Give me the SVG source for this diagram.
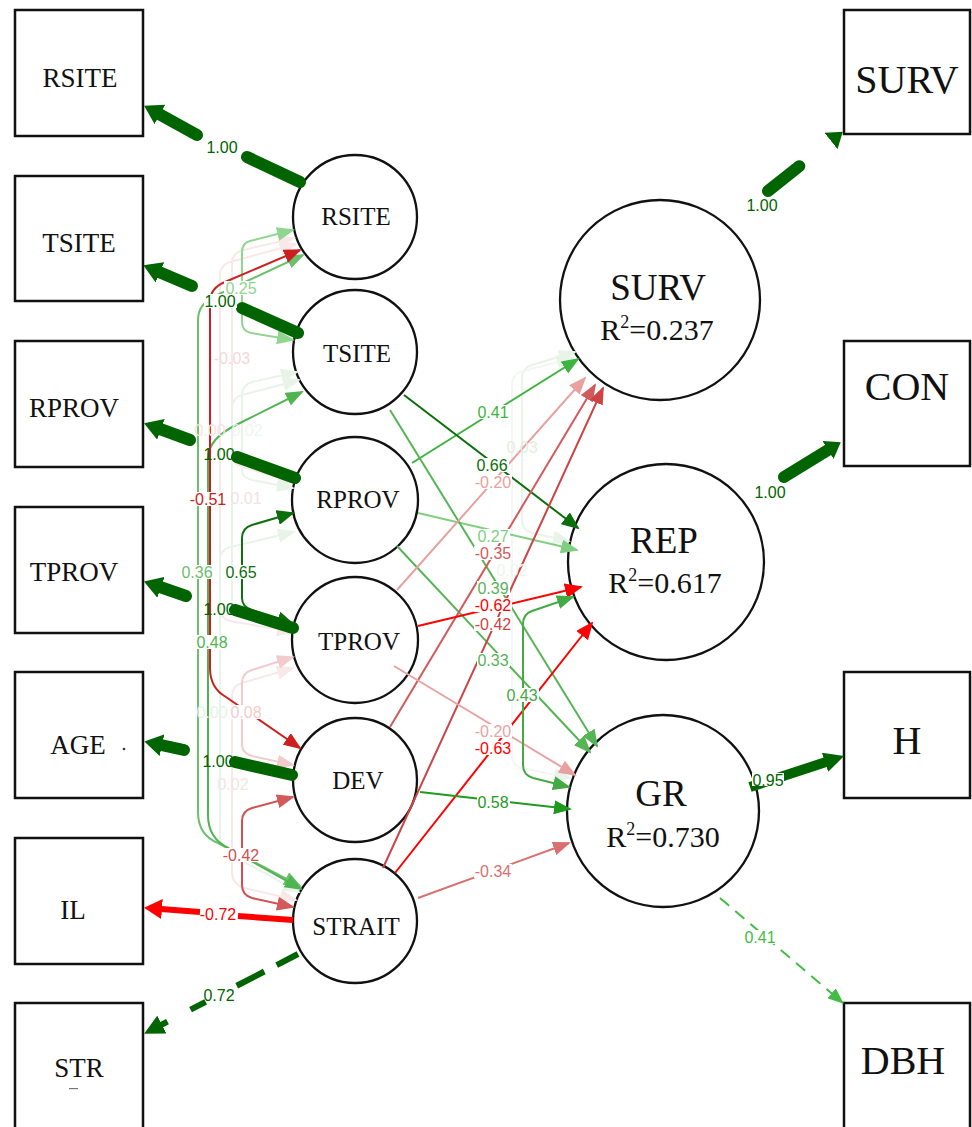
<svg xmlns="http://www.w3.org/2000/svg" width="972" height="1127" viewBox="0 0 972 1127">
<style>
.box{fill:#fff;stroke:#111;stroke-width:2.5}
.cir{fill:none;stroke:#111;stroke-width:2.3}
.nt{font-family:"Liberation Serif","Times New Roman",serif;fill:#111;text-anchor:middle}
.bt{font-size:27px}
.rt{font-size:40px}
.ct{font-size:25px}
.el{font-family:"Liberation Sans",Arial,sans-serif;font-size:16px;text-anchor:middle}
.bg{fill:#fff}
.ld{fill:none;stroke:#006400;stroke-width:12;stroke-linecap:round}
.e{fill:none;stroke-width:2}
</style>
<defs>
<marker id="Adg" viewBox="0 0 18 22" refX="1" refY="11" markerWidth="18" markerHeight="22" markerUnits="userSpaceOnUse" orient="auto"><path d="M0,0 L18,11 L0,22 z" fill="#006400"/></marker>
<marker id="Adg2" viewBox="0 0 15 21" refX="0" refY="10.5" markerWidth="15" markerHeight="21" markerUnits="userSpaceOnUse" orient="auto"><path d="M0,0 L15,10.5 L0,21 z" fill="#006400"/></marker>
<marker id="Adg3" viewBox="0 0 20 20" refX="1" refY="10" markerWidth="20" markerHeight="20" markerUnits="userSpaceOnUse" orient="auto"><path d="M0,0 L20,10 L0,20 z" fill="#006400"/></marker>
<marker id="Ar" viewBox="0 0 18 20" refX="1" refY="10" markerWidth="18" markerHeight="20" markerUnits="userSpaceOnUse" orient="auto"><path d="M0,0 L18,10 L0,20 z" fill="#ff0000"/></marker>
<marker id="mdg" viewBox="0 0 18 15" refX="16" refY="7.5" markerWidth="18" markerHeight="15" markerUnits="userSpaceOnUse" orient="auto-start-reverse"><path d="M0,0 L18,7.5 L0,15 z" fill="#0a6e0a"/></marker>
<marker id="mg" viewBox="0 0 18 14" refX="16" refY="7" markerWidth="18" markerHeight="14" markerUnits="userSpaceOnUse" orient="auto-start-reverse"><path d="M0,0 L18,7 L0,14 z" fill="#3db43d"/></marker>
<marker id="m58" viewBox="0 0 18 14" refX="16" refY="7" markerWidth="18" markerHeight="14" markerUnits="userSpaceOnUse" orient="auto-start-reverse"><path d="M0,0 L18,7 L0,14 z" fill="#1e9a1e"/></marker>
<marker id="m39" viewBox="0 0 18 14" refX="16" refY="7" markerWidth="18" markerHeight="14" markerUnits="userSpaceOnUse" orient="auto-start-reverse"><path d="M0,0 L18,7 L0,14 z" fill="#55b555"/></marker>
<marker id="m43" viewBox="0 0 18 14" refX="16" refY="7" markerWidth="18" markerHeight="14" markerUnits="userSpaceOnUse" orient="auto-start-reverse"><path d="M0,0 L18,7 L0,14 z" fill="#44aa44"/></marker>
<marker id="m48" viewBox="0 0 18 14" refX="16" refY="7" markerWidth="18" markerHeight="14" markerUnits="userSpaceOnUse" orient="auto-start-reverse"><path d="M0,0 L18,7 L0,14 z" fill="#50b450"/></marker>
<marker id="m36" viewBox="0 0 18 14" refX="16" refY="7" markerWidth="18" markerHeight="14" markerUnits="userSpaceOnUse" orient="auto-start-reverse"><path d="M0,0 L18,7 L0,14 z" fill="#6cc06c"/></marker>
<marker id="mlg" viewBox="0 0 18 14" refX="16" refY="7" markerWidth="18" markerHeight="14" markerUnits="userSpaceOnUse" orient="auto-start-reverse"><path d="M0,0 L18,7 L0,14 z" fill="#80cf80"/></marker>
<marker id="mlg2" viewBox="0 0 18 14" refX="16" refY="7" markerWidth="18" markerHeight="14" markerUnits="userSpaceOnUse" orient="auto-start-reverse"><path d="M0,0 L18,7 L0,14 z" fill="#90d590"/></marker>
<marker id="mdbh" viewBox="0 0 16 13" refX="15" refY="6.5" markerWidth="16" markerHeight="13" markerUnits="userSpaceOnUse" orient="auto"><path d="M0,0 L16,6.5 L0,13 z" fill="#44bb44"/></marker>
<marker id="mr" viewBox="0 0 18 15" refX="16" refY="7.5" markerWidth="18" markerHeight="15" markerUnits="userSpaceOnUse" orient="auto-start-reverse"><path d="M0,0 L18,7.5 L0,15 z" fill="#ff0000"/></marker>
<marker id="mr51" viewBox="0 0 18 14" refX="16" refY="7" markerWidth="18" markerHeight="14" markerUnits="userSpaceOnUse" orient="auto-start-reverse"><path d="M0,0 L18,7 L0,14 z" fill="#cc2020"/></marker>
<marker id="mr35" viewBox="0 0 18 14" refX="16" refY="7" markerWidth="18" markerHeight="14" markerUnits="userSpaceOnUse" orient="auto-start-reverse"><path d="M0,0 L18,7 L0,14 z" fill="#d25a5a"/></marker>
<marker id="mr42" viewBox="0 0 18 14" refX="16" refY="7" markerWidth="18" markerHeight="14" markerUnits="userSpaceOnUse" orient="auto-start-reverse"><path d="M0,0 L18,7 L0,14 z" fill="#cc4444"/></marker>
<marker id="mr34" viewBox="0 0 18 14" refX="16" refY="7" markerWidth="18" markerHeight="14" markerUnits="userSpaceOnUse" orient="auto-start-reverse"><path d="M0,0 L18,7 L0,14 z" fill="#d87070"/></marker>
<marker id="mpk" viewBox="0 0 18 14" refX="16" refY="7" markerWidth="18" markerHeight="14" markerUnits="userSpaceOnUse" orient="auto-start-reverse"><path d="M0,0 L18,7 L0,14 z" fill="#e8a0a0"/></marker>
<marker id="m08" viewBox="0 0 18 14" refX="16" refY="7" markerWidth="18" markerHeight="14" markerUnits="userSpaceOnUse" orient="auto-start-reverse"><path d="M0,0 L18,7 L0,14 z" fill="#f2cccc"/></marker>
<marker id="mfp" viewBox="0 0 18 14" refX="16" refY="7" markerWidth="18" markerHeight="14" markerUnits="userSpaceOnUse" orient="auto-start-reverse"><path d="M0,0 L18,7 L0,14 z" fill="#f8e8e8"/></marker>
<marker id="mfg" viewBox="0 0 18 14" refX="16" refY="7" markerWidth="18" markerHeight="14" markerUnits="userSpaceOnUse" orient="auto-start-reverse"><path d="M0,0 L18,7 L0,14 z" fill="#e9f4e9"/></marker>
</defs>
<rect width="972" height="1127" fill="#fff"/>

<g id="box-RSITE"><rect class="box" x="15" y="10" width="128" height="126"/><text class="nt bt" x="80" y="87">RSITE</text></g>
<g id="box-TSITE"><rect class="box" x="15" y="176" width="128" height="125"/><text class="nt bt" x="79" y="252">TSITE</text></g>
<g id="box-RPROV"><rect class="box" x="15" y="341" width="128" height="126"/><text class="nt bt" x="74" y="417">RPROV</text></g>
<g id="box-TPROV"><rect class="box" x="15" y="507" width="128" height="126"/><text class="nt bt" x="74" y="581">TPROV</text></g>
<g id="box-AGE"><rect class="box" x="15" y="672" width="128" height="126"/><text class="nt bt" x="78" y="754">AGE</text><circle cx="124" cy="749" r="1.3" fill="#333"/></g>
<g id="box-IL"><rect class="box" x="15" y="838" width="128" height="126"/><text class="nt bt" x="73" y="919">IL</text></g>
<g id="box-STR"><rect class="box" x="15" y="1003" width="128" height="140"/><text class="nt bt" x="79" y="1077">STR</text><rect x="69" y="1088" width="9" height="1.2" fill="#777"/></g>

<g id="box-SURV"><rect class="box" x="844" y="10" width="126" height="124"/><text class="nt rt" x="907" y="93">SURV</text></g>
<g id="box-CON"><rect class="box" x="844" y="341" width="126" height="125"/><text class="nt rt" x="907" y="400">CON</text></g>
<g id="box-H"><rect class="box" x="844" y="672" width="126" height="126"/><text class="nt rt" x="907" y="754">H</text></g>
<g id="box-DBH"><rect class="box" x="844" y="1003" width="126" height="140"/><text class="nt rt" x="903" y="1074">DBH</text></g>

<g id="node-RSITE"><circle class="cir" cx="355" cy="217" r="62"/><text class="nt ct" x="356" y="225">RSITE</text></g>
<g id="node-TSITE"><circle class="cir" cx="355" cy="352" r="62"/><text class="nt ct" x="357" y="362">TSITE</text></g>
<g id="node-RPROV"><circle class="cir" cx="355" cy="500" r="63"/><text class="nt ct" x="358" y="508">RPROV</text></g>
<g id="node-TPROV"><circle class="cir" cx="355" cy="640" r="63"/><text class="nt ct" x="359" y="650">TPROV</text></g>
<g id="node-DEV"><circle class="cir" cx="355" cy="780" r="62"/><text class="nt ct" x="358" y="789">DEV</text></g>
<g id="node-STRAIT"><circle class="cir" cx="355" cy="921" r="62"/><text class="nt ct" x="356" y="935">STRAIT</text></g>

<g id="node-SURV"><circle class="cir" cx="660" cy="300" r="100"/><text class="nt" x="658" y="300" font-size="37">SURV</text><text class="nt" x="657" y="340" font-size="30">R<tspan font-size="18" dy="-12">2</tspan><tspan dy="12">=0.237</tspan></text></g>
<g id="node-REP"><circle class="cir" cx="666" cy="562" r="98"/><text class="nt" x="664" y="553" font-size="37">REP</text><text class="nt" x="665" y="593" font-size="30">R<tspan font-size="18" dy="-12">2</tspan><tspan dy="12">=0.617</tspan></text></g>
<g id="node-GR"><circle class="cir" cx="663" cy="811" r="96"/><text class="nt" x="661" y="806" font-size="37">GR</text><text class="nt" x="663" y="847" font-size="30">R<tspan font-size="18" dy="-12">2</tspan><tspan dy="12">=0.730</tspan></text></g>

<g id="connectors">
<!-- faint covariances -->
<path class="e" stroke="#f8e8e8" d="M294,238 L243,250 Q232,253 232,263 L232,455 Q232,464 242,467 L294,482" marker-start="url(#mfp)" marker-end="url(#mfp)"/>
<path class="e" stroke="#f8e8e8" d="M296,244 L230,262 Q220,265 220,275 L220,610 Q220,618 230,621 L293,632" marker-start="url(#mfp)" marker-end="url(#mfp)"/>
<path class="e" stroke="#e9f4e9" d="M297,372 L252,382 Q242,385 242,395 L242,470 Q242,478 252,480 L293,488" marker-start="url(#mfg)" marker-end="url(#mfg)"/>
<path class="e" stroke="#e9f4e9" d="M299,380 L242,395 Q232,398 232,408 L232,600 Q232,610 242,613 L293,625" marker-start="url(#mfg)" marker-end="url(#mfg)"/>
<path class="e" stroke="#e9f4e9" d="M294,532 L230,547 Q220,550 220,560 L220,835 Q220,850 235,857 L299,892" marker-start="url(#mfg)" marker-end="url(#mfg)"/>
<path class="e" stroke="#f8e8e8" d="M293,668 L242,683 Q232,686 232,696 L232,872 Q232,884 244,888 L296,900" marker-start="url(#mfp)" marker-end="url(#mfp)"/>
<path class="e" stroke="#e9f4e9" d="M575,352 L532,365 Q522,368 522,378 L522,520 Q522,530 532,533 L569,541" marker-start="url(#mfg)" marker-end="url(#mfg)"/>
<path class="e" stroke="#f2f7f2" d="M573,358 L520,372 Q512,375 512,385 L512,755 Q512,765 522,768 L570,778" marker-start="url(#mfg)" marker-end="url(#mfg)"/>

<!-- left covariances -->
<path class="e" stroke="#f2cccc" d="M293,657 L252,670 Q242,673 242,683 L242,745 Q242,753 252,756 L293,765" marker-start="url(#m08)" marker-end="url(#m08)"/>
<path class="e" stroke="#90d590" d="M293,230 L250,241 Q242,243 242,252 L242,322 Q242,331 251,333 L293,340" marker-start="url(#mlg2)" marker-end="url(#mlg2)"/>
<path class="e" stroke="#6cc06c" d="M303,255 L215,296 Q198,304 198,320 L198,812 Q198,835 218,843 L300,886" marker-start="url(#m36)" marker-end="url(#m36)"/>
<path class="e" stroke="#50b450" d="M302,392 L240,423 Q208,438 208,458 L208,815 Q208,838 228,848 L301,889" marker-start="url(#m48)" marker-end="url(#m48)"/>
<path class="e" stroke="#cc2020" d="M300,250 L225,282 Q210,288 210,302 L210,668 Q210,688 226,697 L300,748" marker-start="url(#mr51)" marker-end="url(#mr51)"/>
<path class="e" stroke="#0f700f" stroke-width="3" d="M293,513 L252,525 Q242,528 242,538 L242,598 Q242,607 252,610 L293,624" marker-start="url(#mdg)" marker-end="url(#mdg)"/>
<path class="e" stroke="#d25050" d="M293,797 L252,808 Q242,811 242,821 L242,885 Q242,895 252,898 L293,907" marker-start="url(#mr35)" marker-end="url(#mr35)"/>

<!-- loadings left -->
<path class="ld" d="M300,182 L247,157"/>
<path class="ld" d="M197,135 L159,114" marker-end="url(#Adg)"/>
<path class="ld" d="M298,333 L242,308"/>
<path class="ld" d="M192,286 L159,272" marker-end="url(#Adg)"/>
<path class="ld" d="M295,478 L237,457"/>
<path class="ld" d="M190,440 L160,429" marker-end="url(#Adg)"/>
<path class="ld" d="M293,628 L235,610"/>
<path class="ld" d="M186,596 L160,587" marker-end="url(#Adg)"/>
<path class="ld" d="M292,775 L235,762"/>
<path class="ld" d="M184,750 L161,745" marker-end="url(#Adg)"/>
<path fill="none" stroke="#ff0000" stroke-width="6" d="M293,920 L238,916"/>
<path fill="none" stroke="#ff0000" stroke-width="6" d="M200,912 L161,909" marker-end="url(#Ar)"/>
<path fill="none" stroke="#006400" stroke-width="6" stroke-dasharray="24 14 31 35 17 26 100" d="M298,954 L161,1025" marker-end="url(#Adg3)"/>

<!-- loadings right -->
<path class="ld" stroke-dasharray="40 100" d="M768,191 L831,141" marker-end="url(#Adg2)"/>
<path class="ld" d="M784,477 L828,450" marker-end="url(#Adg2)"/>
<path fill="none" stroke="#006400" stroke-width="10" d="M750,787 L826,762" marker-end="url(#Adg3)"/>
<path class="e" stroke="#44bb44" stroke-dasharray="12 8" d="M720,898 L843,1003" marker-end="url(#mdbh)"/>

<!-- structural paths -->
<path class="e" stroke="#3db43d" stroke-width="2.5" d="M412,463 L578,359" marker-end="url(#mg)"/>
<path class="e" stroke="#0a6e0a" stroke-width="4" d="M404,395 L578,528" marker-end="url(#mdg)"/>
<path class="e" stroke="#80cf80" d="M418,513 L577,550" marker-end="url(#mlg)"/>
<path class="e" stroke="#55b555" d="M390,410 L597,746" marker-end="url(#m39)"/>
<path class="e" stroke="#55b555" d="M397,546 L590,752" marker-end="url(#m39)"/>
<path class="e" stroke="#e8a0a0" d="M397,590 L585,378" marker-end="url(#mpk)"/>
<path class="e" stroke="#d25a5a" d="M390,727 L595,385" marker-end="url(#mr35)"/>
<path class="e" stroke="#cc4444" d="M383,868 L603,388" marker-end="url(#mr42)"/>
<path class="e" stroke="#ff0000" stroke-width="3.5" d="M418,626 L581,587" marker-end="url(#mr)"/>
<path class="e" stroke="#ff0000" stroke-width="3.5" d="M395,873 L592,623" marker-end="url(#mr)"/>
<path class="e" stroke="#eaa3a3" d="M394,666 L575,775" marker-end="url(#mpk)"/>
<path class="e" stroke="#1e9a1e" stroke-width="2.5" d="M420,792 L570,809" marker-end="url(#m58)"/>
<path class="e" stroke="#d87070" d="M418,898 L569,843" marker-end="url(#mr34)"/>
<path class="e" stroke="#44aa44" d="M573,597 L532,611 Q523,614 523,624 L523,765 Q523,775 533,778 L569,787" marker-start="url(#m43)" marker-end="url(#m43)"/>

<!-- edge labels -->
<g class="el">
<text x="512" y="576" fill="#eef5ee">0.02</text>
<text x="522" y="453" fill="#dfeedf">0.03</text>
<text x="232" y="364" fill="#f3d8d8">-0.03</text>
<text x="210" y="436" fill="#f5e2e2">0.00</text>
<text x="247" y="436" fill="#eef6ee">0.02</text>
<text x="246" y="504" fill="#f2e2e2">0.01</text>
<text x="212" y="718" fill="#e6f2e6">0.00</text>
<rect class="bg" x="230" y="705" width="33" height="14"/><text x="246" y="718" fill="#f2cccc">0.08</text>
<text x="233" y="790" fill="#f3e4e4">0.02</text>
<rect class="bg" x="224" y="281" width="33" height="14"/><text x="241" y="294" fill="#90d590">0.25</text>
<rect class="bg" x="189" y="492" width="38" height="14"/><text x="208" y="505" fill="#cc2020">-0.51</text>
<rect class="bg" x="180" y="565" width="33" height="14"/><text x="197" y="578" fill="#6cc06c">0.36</text>
<rect class="bg" x="225" y="565" width="33" height="14"/><text x="241" y="578" fill="#0f700f">0.65</text>
<rect class="bg" x="195" y="635" width="33" height="14"/><text x="212" y="648" fill="#50b450">0.48</text>
<rect class="bg" x="222" y="848" width="38" height="14"/><text x="241" y="861" fill="#d25050">-0.42</text>
<text x="222" y="153" fill="#006400">1.00</text>
<rect class="bg" x="204" y="294" width="33" height="14"/><text x="220" y="307" fill="#006400">1.00</text>
<text x="219" y="460" fill="#006400">1.00</text>
<text x="219" y="615" fill="#006400">1.00</text>
<text x="218" y="767" fill="#006400">1.00</text>
<text x="218" y="920" fill="#ff0000">-0.72</text>
<text x="219" y="1001" fill="#006400">0.72</text>
<text x="762" y="211" fill="#006400">1.00</text>
<text x="770" y="498" fill="#006400">1.00</text>
<rect class="bg" x="752" y="773" width="32" height="13"/><text x="768" y="786" fill="#006400">0.95</text>
<rect class="bg" x="744" y="930" width="33" height="14"/><text x="760" y="943" fill="#44bb44">0.41</text>
<rect class="bg" x="477" y="405" width="33" height="14"/><text x="493" y="418" fill="#3db43d">0.41</text>
<rect class="bg" x="476" y="458" width="33" height="14"/><text x="492" y="471" fill="#0a6e0a">0.66</text>
<rect class="bg" x="474" y="475" width="38" height="14"/><text x="493" y="488" fill="#e8a0a0">-0.20</text>
<rect class="bg" x="477" y="529" width="33" height="14"/><text x="493" y="542" fill="#80cf80">0.27</text>
<rect class="bg" x="474" y="546" width="38" height="14"/><text x="493" y="559" fill="#d25a5a">-0.35</text>
<rect class="bg" x="477" y="581" width="33" height="14"/><text x="493" y="594" fill="#55b555">0.39</text>
<rect class="bg" x="474" y="598" width="38" height="14"/><text x="493" y="611" fill="#ff0000">-0.62</text>
<rect class="bg" x="474" y="617" width="38" height="14"/><text x="493" y="630" fill="#cc4444">-0.42</text>
<rect class="bg" x="477" y="653" width="33" height="14"/><text x="493" y="666" fill="#55b555">0.33</text>
<rect class="bg" x="506" y="688" width="33" height="14"/><text x="522" y="701" fill="#44aa44">0.43</text>
<rect class="bg" x="474" y="724" width="38" height="14"/><text x="493" y="737" fill="#eaa3a3">-0.20</text>
<rect class="bg" x="474" y="741" width="38" height="14"/><text x="493" y="754" fill="#ff0000">-0.63</text>
<rect class="bg" x="477" y="795" width="33" height="14"/><text x="493" y="808" fill="#1e9a1e">0.58</text>
<rect class="bg" x="474" y="864" width="38" height="14"/><text x="493" y="877" fill="#d87070">-0.34</text>
</g>
</g>
</svg>
